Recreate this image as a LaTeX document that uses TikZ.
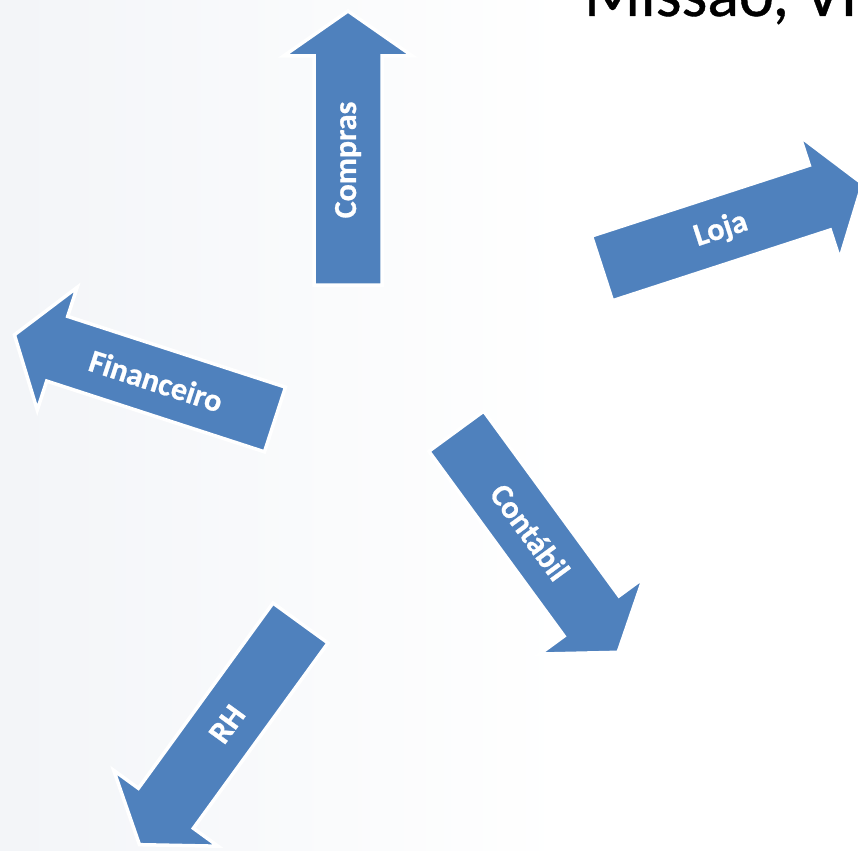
\documentclass[tikz,border=0pt]{standalone}
\usepackage{fontspec}
\setmainfont{Carlito}
\definecolor{arrowblue}{HTML}{4F81BD}
\definecolor{bgL}{HTML}{E8ECF2}
\pgfdeclarehorizontalshading{bgshade}{100bp}{color(0bp)=(bgL); color(30bp)=(bgL!45!white); color(58bp)=(white); color(100bp)=(white)}
\tikzset{
  arrowbody/.style={fill=arrowblue, draw=white, line width=3.5pt, line join=miter},
  lbl/.style={text=white, font=\bfseries\addfontfeature{FakeBold=0.8}\fontsize{32}{32}\selectfont, inner sep=0pt},
  titletext/.style={text=black, font=\addfontfeature{FakeBold=0.6}\fontsize{66}{66}\selectfont, inner sep=0pt, anchor=base west}
}
\newcommand{\blockarrow}[6]{%
  \begin{scope}[shift={(#2,#3)}, rotate=#4]
    \draw[arrowbody] (0,-34) -- (229,-34) -- (229,-64.5) -- (274,0) -- (229,64.5) -- (229,34) -- (0,34) -- cycle;
    \node[lbl, rotate=#5] (#1) at (125,0) {#6};
  \end{scope}}
\begin{document}
\begin{tikzpicture}[x=1pt,y=-1pt]
  \useasboundingbox (0,0) rectangle (858,850);
  \clip (0,0) rectangle (858,850);
  \shade[shading=bgshade] (0,0) rectangle (858,850);
  \node[titletext] (title) at (584,16) {Missão, Vi};
  \blockarrow{compras}{348}{285}{90}{90}{Compras}
  \blockarrow{loja}{602}{268.4}{18}{18}{Loja}
  \blockarrow{financeiro}{275}{419.5}{162}{-18}{Financeiro}
  \blockarrow{contabil}{456.3}{431.2}{-53.8}{-53.8}{Contábil}
  \blockarrow{rh}{300.5}{623}{234}{54}{RH}
\end{tikzpicture}
\end{document}
